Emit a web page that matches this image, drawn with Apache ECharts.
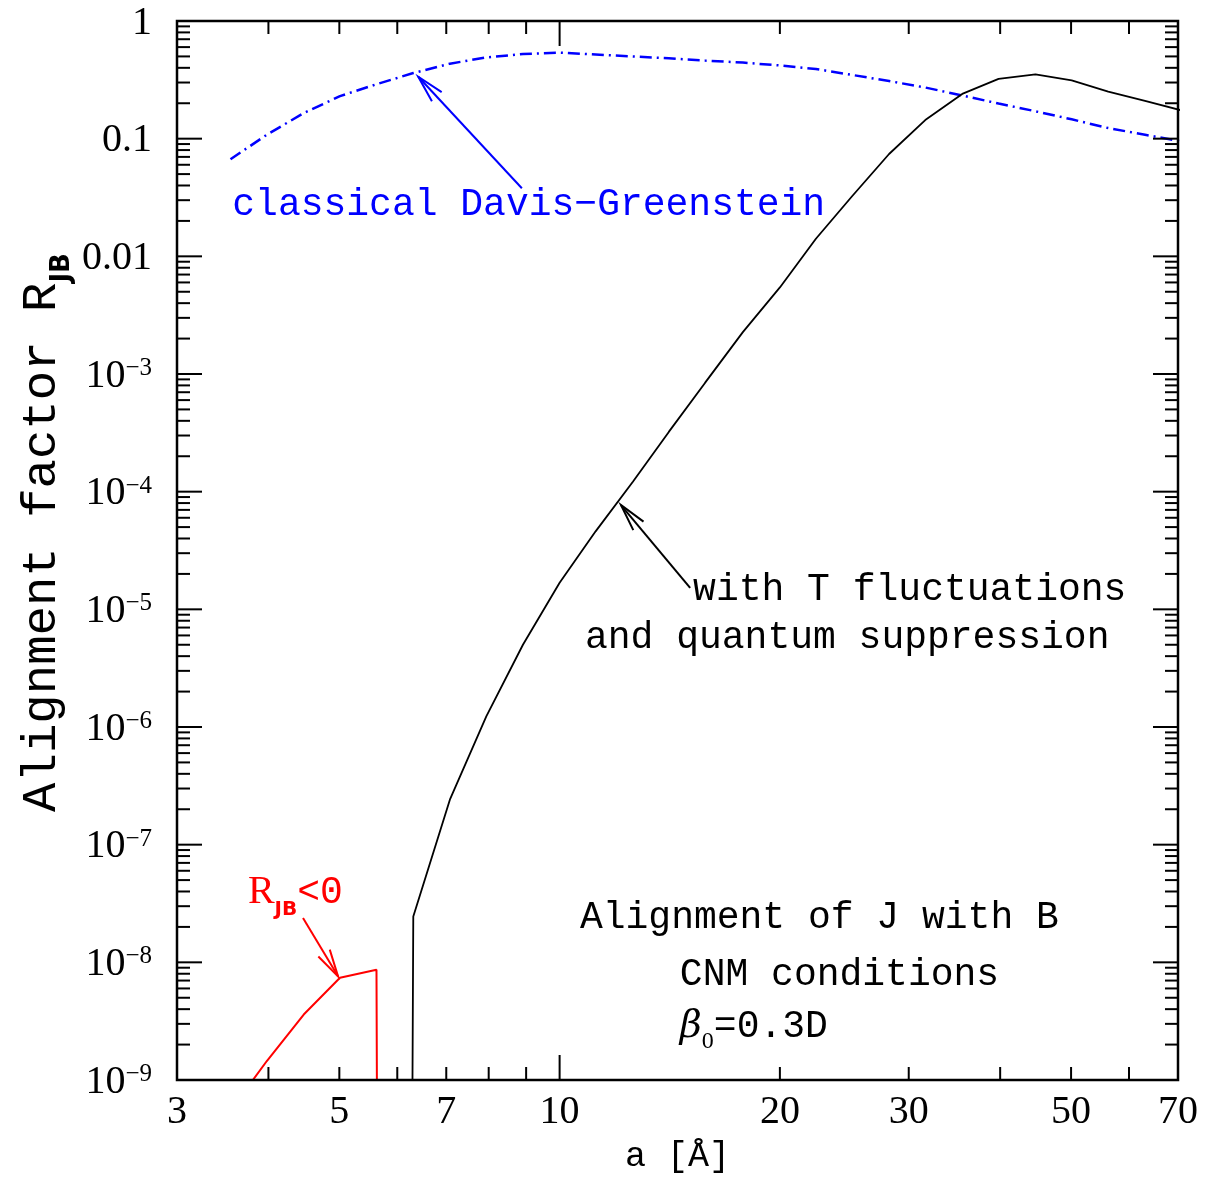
<!DOCTYPE html>
<html><head><meta charset="utf-8">
<script src="https://cdn.jsdelivr.net/npm/echarts@6/dist/echarts.min.js"></script>
<style>html,body{margin:0;padding:0;background:#fff}#c{width:1218px;height:1178px}</style>
</head><body><div id="c"></div>
<script>
// ---------------- data ----------------
const blueA = [3.55, 3.98, 4.47, 5.01, 5.62, 6.31, 7.08, 7.94, 8.91, 10.0, 11.2, 12.6, 14.1, 15.8, 17.8, 20.0, 22.4, 25.1, 28.2, 31.6, 35.5, 39.8, 44.7, 50.1, 56.2, 63.1, 70.8];
const blueR = [0.0668, 0.108, 0.165, 0.230, 0.290, 0.361, 0.434, 0.490, 0.524, 0.538, 0.519, 0.499, 0.482, 0.461, 0.443, 0.419, 0.391, 0.348, 0.309, 0.272, 0.233, 0.199, 0.171, 0.146, 0.123, 0.108, 0.0946];

const blackA = [6.26, 6.31, 7.08, 7.94, 8.91, 10.0, 11.2, 12.6, 14.1, 15.8, 17.8, 20.0, 22.4, 25.1, 28.2, 31.6, 35.5, 39.8, 44.7, 50.1, 56.2, 63.1, 70.8];
const blackR = [1e-12, 2.45e-8, 2.41e-7, 1.23e-6, 5.0e-6, 1.68e-5, 4.6e-5, 1.22e-4, 3.22e-4, 8.4e-4, 2.27e-3, 5.44e-3, 0.0141, 0.0324, 0.0741, 0.144, 0.240, 0.322, 0.352, 0.313, 0.251, 0.209, 0.174];

const redA = [3.55, 3.98, 4.47, 5.01, 5.62, 5.65];
const redR = [5.5e-10, 1.45e-9, 3.6e-9, 7.4e-9, 8.65e-9, 1e-12];

// axis ticks & labels
const X_MIN = 3, X_MAX = 70, Y_MIN = 1e-9, Y_MAX = 1;
const xMajorTicks = [10];
const xMinorTicks = [4, 5, 6, 7, 8, 9, 20, 30, 40, 50, 60];
const xTickLabels = [3, 5, 7, 10, 20, 30, 50, 70];
const yDecades = [1, 0.1, 0.01, 1e-3, 1e-4, 1e-5, 1e-6, 1e-7, 1e-8, 1e-9];
const yTickLabels = ['{b|1}', '{b|0.1}', '{b|0.01}', '{b|10}{s|−3}', '{b|10}{s|−4}', '{b|10}{s|−5}', '{b|10}{s|−6}', '{b|10}{s|−7}', '{b|10}{s|−8}', '{b|10}{s|−9}'];
const yMinorMult = [2, 3, 4, 5, 6, 7, 8, 9];
const xTitle = 'a [Å]';
const yTitle = '{t|Alignment factor R}{s|JB}';

// annotations (texts, colours, anchors in data units)
const annoTexts = ['{t|classical Davis−Greenstein}', '{t|with T fluctuations}', '{t|and quantum suppression}', '{t|Alignment of J with B}', '{t|CNM conditions}', '{bt|β}{sub0|0}{t|=0.3D}', '{r|R}{sub|JB}{t|<0}'];
const annoColors = ['#0000ff', '#000000', '#000000', '#000000', '#000000', '#000000', '#ff0000'];
const annoA = [3.57, 15.22, 10.83, 10.66, 14.6, 14.6, 3.75];
const annoR = [0.0273, 1.47e-5, 5.7e-6, 2.39e-8, 7.85e-9, 2.84e-9, 3.9e-8];

// arrows: tail (a,R) -> tip (a,R)
const arrowTailA = [8.88, 15.08, 4.46];
const arrowTailR = [0.0379, 1.52e-5, 2.38e-8];
const arrowTipA = [6.41, 12.13, 4.98];
const arrowTipR = [0.336, 7.7e-5, 7.6e-9];
const arrowColors = ['#0000ff', '#000000', '#ff0000'];

// ---------------- rendering ----------------
const FONT_TXT = '"Liberation Mono", monospace';
const FONT_NUM = '"Liberation Serif", serif';
const zip = (a, b) => a.map((v, i) => [v, b[i]]);

function renderAxes(params, api) {
  const p0 = api.coord([X_MIN, Y_MIN]), p1 = api.coord([X_MAX, Y_MAX]);
  const L = p0[0], B = p0[1], R = p1[0], T = p1[1];
  const MAJ = 25, MIN = 13;
  const ch = [];
  const ln = (x1, y1, x2, y2, w) => ch.push({type: 'line', shape: {x1, y1, x2, y2}, style: {stroke: '#000', lineWidth: w || 2}});
  xMajorTicks.forEach(v => { const x = api.coord([v, Y_MIN])[0]; ln(x, B, x, B - MAJ); ln(x, T, x, T + MAJ); });
  xMinorTicks.forEach(v => { const x = api.coord([v, Y_MIN])[0]; ln(x, B, x, B - MIN); ln(x, T, x, T + MIN); });
  yDecades.forEach(d => {
    const y = api.coord([X_MIN, d])[1];
    ln(L, y, L + MAJ, y); ln(R, y, R - MAJ, y);
    if (d > Y_MIN * 1.01) {
      yMinorMult.forEach(m => {
        const yy = api.coord([X_MIN, d / 10 * m])[1];
        ln(L, yy, L + MIN, yy); ln(R, yy, R - MIN, yy);
      });
    }
  });
  ch.push({type: 'rect', shape: {x: L, y: T, width: R - L, height: B - T}, style: {fill: 'none', stroke: '#000', lineWidth: 2.5}});
  xTickLabels.forEach(v => {
    const x = api.coord([v, Y_MIN])[0];
    ch.push({type: 'text', x: x, y: B + 32, style: {text: String(v), fill: '#000', font: '40px ' + FONT_NUM, align: 'center', verticalAlign: 'middle'}});
  });
  yDecades.forEach((d, i) => {
    const y = api.coord([X_MIN, d])[1];
    ch.push({type: 'text', x: L - 25, y: y + 2, style: {text: yTickLabels[i], align: 'right', verticalAlign: 'middle',
      rich: {b: {fontSize: 40, fontFamily: FONT_NUM, fill: '#000', lineHeight: 40, verticalAlign: 'middle'},
             s: {fontSize: 25, fontFamily: FONT_NUM, fill: '#000', lineHeight: 25, verticalAlign: 'top'}}}});
  });
  ch.push({type: 'text', x: (L + R) / 2, y: B + 77, style: {text: xTitle, fill: '#000', font: '35px ' + FONT_TXT, align: 'center', verticalAlign: 'middle'}});
  ch.push({type: 'text', x: L - 135, y: (T + B) / 2 - 18, rotation: Math.PI / 2, style: {text: yTitle, align: 'center', verticalAlign: 'middle',
    rich: {t: {fontSize: 49, fontFamily: FONT_TXT, fill: '#000', lineHeight: 66, verticalAlign: 'middle'},
           s: {fontSize: 26, fontFamily: '"DejaVu Sans", sans-serif', fontWeight: 'bold', fill: '#000', lineHeight: 26, verticalAlign: 'bottom'}}}});
  return {type: 'group', children: ch};
}

function renderText(params, api) {
  const i = params.dataIndex;
  const p = api.coord([api.value(0), api.value(1)]);
  const c = annoColors[i];
  return {type: 'text', x: p[0], y: p[1], style: {text: annoTexts[i], align: 'left', verticalAlign: 'middle',
    rich: {t: {fontSize: 38, fontFamily: FONT_TXT, fill: c, lineHeight: 54, verticalAlign: 'middle'},
           r: {fontSize: 40, fontFamily: FONT_NUM, fill: c, lineHeight: 54, verticalAlign: 'middle'},
           bt: {fontSize: 38, fontFamily: '"DejaVu Serif", serif', fontStyle: 'italic', fill: c, lineHeight: 54, verticalAlign: 'middle'},
           sub: {fontSize: 20, fontFamily: '"DejaVu Sans", sans-serif', fontWeight: 'bold', fill: c, lineHeight: 20, verticalAlign: 'bottom'},
           sub0: {fontSize: 24, fontFamily: FONT_NUM, fill: c, lineHeight: 22, verticalAlign: 'bottom'}}}};
}

function renderArrow(params, api) {
  const i = params.dataIndex;
  const t = api.coord([api.value(0), api.value(1)]);
  const h = api.coord([api.value(2), api.value(3)]);
  const c = arrowColors[i];
  const ang = Math.atan2(t[1] - h[1], t[0] - h[0]);
  const len = 28, half = 0.24;
  const a1 = [h[0] + len * Math.cos(ang + half), h[1] + len * Math.sin(ang + half)];
  const a2 = [h[0] + len * Math.cos(ang - half), h[1] + len * Math.sin(ang - half)];
  const st = {stroke: c, lineWidth: 2, fill: 'none'};
  return {type: 'group', children: [
    {type: 'line', shape: {x1: t[0], y1: t[1], x2: h[0], y2: h[1]}, style: st},
    {type: 'polyline', shape: {points: [a1, h, a2]}, style: st}
  ]};
}

const chart = echarts.init(document.getElementById('c'), null, {renderer: 'canvas'});
chart.setOption({
  animation: false,
  backgroundColor: '#ffffff',
  grid: {left: 177, right: 40, top: 21, bottom: 98, show: false, containLabel: false},
  xAxis: {type: 'log', logBase: 10, min: X_MIN, max: X_MAX, axisLine: {show: false}, axisTick: {show: false}, axisLabel: {show: false}, splitLine: {show: false}},
  yAxis: {type: 'log', logBase: 10, min: Y_MIN, max: Y_MAX, axisLine: {show: false}, axisTick: {show: false}, axisLabel: {show: false}, splitLine: {show: false}},
  series: [
    {type: 'line', data: zip(blackA, blackR), symbol: 'none', lineStyle: {color: '#000000', width: 1.8}, clip: true, z: 3},
    {type: 'line', data: zip(blueA, blueR), symbol: 'none', lineStyle: {color: '#0000ff', width: 2.5, type: [12, 5, 2, 5]}, clip: true, z: 2},
    {type: 'line', data: zip(redA, redR), symbol: 'none', lineStyle: {color: '#ff0000', width: 2}, clip: true, z: 3},
    {type: 'custom', renderItem: renderAxes, data: [[10, 1e-4]], clip: false, silent: true, z: 10},
    {type: 'custom', renderItem: renderText, data: zip(annoA, annoR), clip: false, silent: true, z: 11},
    {type: 'custom', renderItem: renderArrow, data: arrowTailA.map((v, i) => [v, arrowTailR[i], arrowTipA[i], arrowTipR[i]]),
     encode: {x: [0, 2], y: [1, 3]}, clip: false, silent: true, z: 11}
  ]
});
</script>
</body></html>
